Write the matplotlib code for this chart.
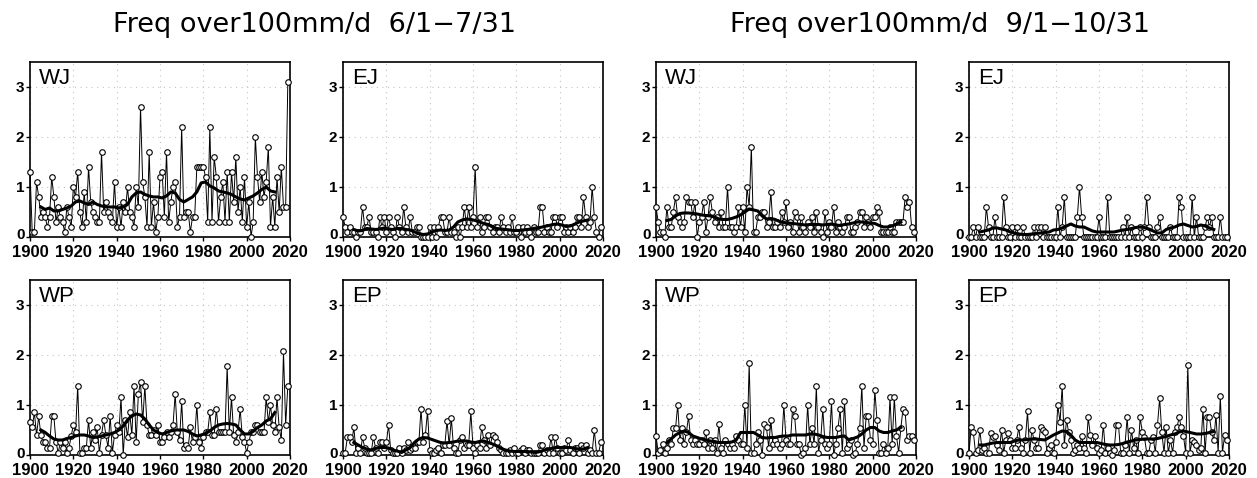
import matplotlib
matplotlib.use("Agg")
import matplotlib.pyplot as plt
from matplotlib import font_manager
from matplotlib.transforms import ScaledTranslation

# yearly frequency, 1900-2019
years = list(range(1900, 2020))
smooth_years = list(range(1905, 2015, 2))

# Jun-Jul
wj_jj = [1.3, 0.1, 0.1, 1.1, 0.8, 0.4, 0.5, 0.4, 0.2, 0.4,
         1.2, 0.8, 0.3, 0.6, 0.4, 0.3, 0.1, 0.6, 0.4, 0.2,
         1.0, 0.8, 1.3, 0.5, 0.2, 0.9, 0.3, 1.4, 0.7, 0.5,
         0.4, 0.3, 0.3, 1.7, 0.5, 0.7, 0.5, 0.4, 0.3, 1.1,
         0.2, 0.6, 0.2, 0.7, 0.5, 1.0, 0.5, 0.4, 0.2, 1.0,
         0.6, 2.6, 1.1, 0.8, 0.2, 1.7, 0.2, 0.7, 0.1, 0.4,
         1.2, 1.3, 0.4, 1.7, 0.3, 0.7, 1.0, 1.1, 0.2, 0.4,
         2.2, 0.4, 0.5, 0.5, 0.1, 0.4, 0.4, 1.4, 1.4, 1.4,
         1.4, 1.2, 0.3, 2.2, 0.3, 1.6, 1.2, 0.3, 0.8, 1.1,
         0.3, 1.3, 0.3, 1.3, 0.7, 1.6, 0.5, 1.0, 0.3, 1.2,
         0.2, 0.7, 0.0, 0.3, 2.0, 1.2, 0.7, 1.3, 0.8, 1.1,
         1.8, 0.2, 0.8, 0.2, 1.2, 0.5, 1.4, 0.6, 0.6, 3.1]
ej_jj = [0.4, 0.2, 0.1, 0.2, 0.1, 0.1, 0.0, 0.1, 0.1, 0.6,
         0.2, 0.2, 0.4, 0.1, 0.1, 0.1, 0.0, 0.4, 0.2, 0.4,
         0.1, 0.4, 0.2, 0.1, 0.0, 0.4, 0.2, 0.1, 0.6, 0.2,
         0.1, 0.4, 0.1, 0.1, 0.2, 0.2, 0.0, 0.0, 0.0, 0.0,
         0.2, 0.0, 0.2, 0.0, 0.2, 0.4, 0.4, 0.1, 0.1, 0.4,
         0.1, 0.1, 0.0, 0.2, 0.0, 0.2, 0.6, 0.2, 0.6, 0.2,
         0.4, 1.4, 0.2, 0.4, 0.1, 0.2, 0.4, 0.4, 0.2, 0.1,
         0.2, 0.2, 0.1, 0.4, 0.2, 0.1, 0.2, 0.1, 0.4, 0.1,
         0.1, 0.2, 0.0, 0.2, 0.1, 0.2, 0.1, 0.0, 0.2, 0.1,
         0.1, 0.6, 0.6, 0.1, 0.2, 0.1, 0.1, 0.4, 0.4, 0.2,
         0.4, 0.4, 0.1, 0.2, 0.1, 0.2, 0.1, 0.2, 0.4, 0.4,
         0.2, 0.8, 0.4, 0.2, 0.3, 1.0, 0.4, 0.1, 0.0, 0.2]
wp_jj = [0.65, 0.55, 0.85, 0.40, 0.77, 0.40, 0.25, 0.25, 0.15, 0.15,
         0.77, 0.77, 0.25, 0.05, 0.25, 0.15, 0.25, 0.05, 0.15, 0.38,
         0.60, 0.45, 1.38, 0.05, 0.05, 0.15, 0.15, 0.70, 0.15, 0.45,
         0.30, 0.55, 0.05, 0.40, 0.70, 0.40, 0.15, 0.78, 0.05, 0.40,
         0.60, 0.45, 1.15, 0.00, 0.70, 0.35, 0.85, 0.40, 1.38, 0.25,
         1.22, 1.45, 0.65, 1.38, 0.60, 0.40, 0.40, 0.50, 0.40, 0.60,
         0.25, 0.25, 0.35, 0.45, 0.35, 0.45, 0.60, 1.22, 0.45, 0.30,
         1.07, 0.15, 0.20, 0.15, 0.55, 0.25, 0.35, 1.00, 0.25, 0.15,
         0.35, 0.45, 0.45, 0.85, 0.40, 0.40, 0.92, 0.45, 0.45, 0.45,
         0.45, 1.77, 0.45, 1.15, 0.40, 0.25, 0.45, 0.92, 0.35, 0.25,
         0.05, 0.25, 0.45, 0.45, 0.60, 0.60, 0.45, 0.45, 0.45, 1.15,
         0.65, 1.00, 0.60, 0.45, 1.15, 0.55, 0.30, 2.07, 0.60, 1.38]
ep_jj = [0.05, 0.05, 0.35, 0.35, 0.25, 0.55, 0.05, 0.15, 0.05, 0.35,
         0.15, 0.05, 0.05, 0.05, 0.35, 0.15, 0.05, 0.25, 0.25, 0.15,
         0.25, 0.60, 0.10, 0.05, 0.05, 0.05, 0.15, 0.05, 0.15, 0.10,
         0.25, 0.10, 0.15, 0.15, 0.25, 0.25, 0.92, 0.25, 0.40, 0.87,
         0.10, 0.05, 0.05, 0.10, 0.15, 0.05, 0.20, 0.20, 0.68, 0.20,
         0.73, 0.15, 0.05, 0.05, 0.30, 0.35, 0.15, 0.20, 0.20, 0.87,
         0.15, 0.05, 0.20, 0.15, 0.55, 0.30, 0.15, 0.40, 0.20, 0.40,
         0.35, 0.25, 0.15, 0.10, 0.05, 0.05, 0.05, 0.10, 0.05, 0.15,
         0.05, 0.05, 0.10, 0.15, 0.05, 0.10, 0.10, 0.05, 0.05, 0.05,
         0.05, 0.20, 0.20, 0.05, 0.10, 0.05, 0.35, 0.05, 0.35, 0.15,
         0.05, 0.05, 0.15, 0.10, 0.30, 0.10, 0.05, 0.15, 0.15, 0.05,
         0.20, 0.15, 0.20, 0.05, 0.10, 0.05, 0.50, 0.05, 0.05, 0.25]

# Sep-Oct
wj_so = [0.6, 0.3, 0.1, 0.1, 0.0, 0.6, 0.2, 0.2, 0.5, 0.8,
         0.4, 0.3, 0.2, 0.3, 0.8, 0.7, 0.7, 0.4, 0.7, 0.0,
         0.3, 0.4, 0.7, 0.1, 0.4, 0.8, 0.5, 0.3, 0.4, 0.2,
         0.5, 0.2, 0.2, 1.0, 0.2, 0.2, 0.1, 0.2, 0.6, 0.2,
         0.6, 0.1, 1.0, 0.6, 1.8, 0.1, 0.1, 0.4, 0.4, 0.5,
         0.5, 0.2, 0.3, 0.9, 0.2, 0.2, 0.3, 0.2, 0.5, 0.3,
         0.7, 0.2, 0.3, 0.1, 0.5, 0.4, 0.1, 0.4, 0.2, 0.1,
         0.3, 0.2, 0.4, 0.1, 0.5, 0.2, 0.1, 0.0, 0.5, 0.1,
         0.3, 0.2, 0.6, 0.1, 0.3, 0.2, 0.1, 0.2, 0.4, 0.4,
         0.1, 0.1, 0.2, 0.3, 0.5, 0.5, 0.2, 0.4, 0.3, 0.2,
         0.4, 0.4, 0.6, 0.5, 0.1, 0.1, 0.1, 0.1, 0.2, 0.1,
         0.1, 0.3, 0.3, 0.3, 0.3, 0.8, 0.6, 0.7, 0.2, 0.1]
ej_so = [0.0, 0.0, 0.2, 0.0, 0.2, 0.0, 0.0, 0.0, 0.6, 0.2,
         0.0, 0.0, 0.4, 0.0, 0.0, 0.0, 0.8, 0.2, 0.0, 0.0,
         0.2, 0.0, 0.2, 0.0, 0.0, 0.2, 0.0, 0.0, 0.0, 0.0,
         0.2, 0.0, 0.2, 0.2, 0.0, 0.2, 0.0, 0.0, 0.0, 0.0,
         0.0, 0.6, 0.0, 0.2, 0.8, 0.0, 0.0, 0.0, 0.0, 0.0,
         0.4, 1.0, 0.4, 0.0, 0.0, 0.0, 0.0, 0.0, 0.0, 0.0,
         0.4, 0.0, 0.0, 0.0, 0.8, 0.0, 0.0, 0.0, 0.0, 0.0,
         0.0, 0.2, 0.0, 0.4, 0.0, 0.2, 0.0, 0.0, 0.0, 0.2,
         0.0, 0.2, 0.8, 0.2, 0.0, 0.0, 0.0, 0.2, 0.4, 0.0,
         0.0, 0.0, 0.0, 0.2, 0.0, 0.0, 0.0, 0.8, 0.6, 0.0,
         0.0, 0.0, 0.0, 0.8, 0.0, 0.4, 0.0, 0.0, 0.0, 0.2,
         0.4, 0.2, 0.4, 0.0, 0.0, 0.0, 0.4, 0.0, 0.0, 0.0]
wp_so = [0.38, 0.05, 0.10, 0.22, 0.05, 0.15, 0.30, 0.22, 0.53, 0.53,
         1.00, 0.30, 0.53, 0.22, 0.45, 0.77, 0.30, 0.22, 0.30, 0.22,
         0.22, 0.30, 0.22, 0.45, 0.15, 0.30, 0.15, 0.30, 0.05, 0.62,
         0.15, 0.05, 0.30, 0.22, 0.15, 0.22, 0.15, 0.38, 0.30, 0.22,
         0.22, 1.00, 0.15, 1.83, 0.05, 0.05, 0.22, 0.45, 0.30, 0.00,
         0.62, 0.55, 0.15, 0.70, 0.22, 0.30, 0.22, 0.15, 0.22, 1.00,
         0.30, 0.22, 0.22, 0.92, 0.77, 0.22, 0.22, 0.00, 0.05, 0.15,
         1.00, 0.22, 0.53, 0.22, 1.38, 0.05, 0.30, 0.92, 0.22, 0.15,
         0.22, 1.07, 0.00, 0.22, 0.53, 0.92, 0.05, 1.07, 0.15, 0.22,
         0.30, 0.00, 0.05, 0.22, 0.53, 1.38, 0.15, 0.77, 0.77, 0.30,
         0.22, 1.30, 0.70, 0.05, 0.05, 0.22, 0.05, 0.15, 1.15, 0.22,
         1.15, 0.38, 0.05, 0.53, 0.92, 0.85, 0.30, 0.38, 0.38, 0.30]
ep_so = [0.05, 0.55, 0.45, 0.05, 0.10, 0.50, 0.10, 0.15, 0.05, 0.05,
         0.43, 0.35, 0.38, 0.20, 0.10, 0.50, 0.05, 0.30, 0.43, 0.30,
         0.15, 0.15, 0.30, 0.55, 0.15, 0.05, 0.30, 0.87, 0.05, 0.50,
         0.30, 0.15, 0.15, 0.55, 0.50, 0.45, 0.05, 0.15, 0.20, 0.05,
         0.25, 1.00, 0.65, 1.38, 0.20, 0.70, 0.45, 0.30, 0.05, 0.10,
         0.20, 0.15, 0.38, 0.15, 0.05, 0.75, 0.40, 0.20, 0.38, 0.15,
         0.05, 0.10, 0.60, 0.05, 0.15, 0.05, 0.00, 0.10, 0.60, 0.60,
         0.05, 0.05, 0.20, 0.75, 0.05, 0.50, 0.15, 0.30, 0.05, 0.75,
         0.45, 0.35, 0.05, 0.05, 0.30, 0.35, 0.05, 0.60, 1.13, 0.45,
         0.05, 0.55, 0.05, 0.30, 0.05, 0.45, 0.55, 0.75, 0.55, 0.38,
         0.05, 1.80, 0.05, 0.30, 0.25, 0.20, 0.10, 0.15, 0.92, 0.05,
         0.75, 0.75, 0.45, 0.30, 0.80, 0.05, 1.18, 0.05, 0.40, 0.30]

# 11-year running mean (every 2nd year)
wj_jj_smooth = [0.60, 0.55, 0.58, 0.52, 0.52, 0.55, 0.58, 0.62, 0.70, 0.72,
                0.68, 0.65, 0.70, 0.65, 0.62, 0.60, 0.60, 0.60, 0.58, 0.60,
                0.65, 0.80, 0.88, 0.90, 0.85, 0.82, 0.80, 0.80, 0.78, 0.82,
                0.90, 0.88, 0.75, 0.70, 0.75, 0.80, 0.90, 1.08, 1.10, 1.02,
                0.98, 0.92, 0.90, 0.88, 0.85, 0.80, 0.76, 0.74, 0.78, 0.82,
                0.88, 0.95, 1.00, 0.92, 0.90]
ej_jj_smooth = [0.15, 0.12, 0.13, 0.17, 0.16, 0.15, 0.16, 0.18, 0.16, 0.15,
                0.17, 0.17, 0.15, 0.14, 0.10, 0.07, 0.05, 0.06, 0.10, 0.13,
                0.14, 0.13, 0.14, 0.20, 0.30, 0.34, 0.36, 0.35, 0.33, 0.30,
                0.27, 0.25, 0.20, 0.17, 0.16, 0.15, 0.14, 0.13, 0.13, 0.14,
                0.15, 0.16, 0.18, 0.19, 0.21, 0.23, 0.25, 0.26, 0.24, 0.21,
                0.22, 0.26, 0.30, 0.32, 0.34]
wp_jj_smooth = [0.50, 0.45, 0.38, 0.32, 0.30, 0.30, 0.33, 0.35, 0.38, 0.40,
                0.40, 0.38, 0.35, 0.36, 0.38, 0.40, 0.42, 0.45, 0.50, 0.58,
                0.70, 0.78, 0.82, 0.80, 0.72, 0.60, 0.50, 0.45, 0.42, 0.45,
                0.48, 0.50, 0.50, 0.50, 0.47, 0.42, 0.38, 0.40, 0.43, 0.48,
                0.55, 0.60, 0.62, 0.63, 0.62, 0.60, 0.50, 0.42, 0.42, 0.47,
                0.55, 0.60, 0.68, 0.72, 0.85]
ep_jj_smooth = [0.25, 0.20, 0.15, 0.12, 0.10, 0.13, 0.15, 0.15, 0.14, 0.10,
                0.08, 0.05, 0.10, 0.15, 0.25, 0.32, 0.35, 0.34, 0.31, 0.28,
                0.25, 0.24, 0.25, 0.26, 0.28, 0.28, 0.28, 0.26, 0.25, 0.27,
                0.28, 0.25, 0.22, 0.18, 0.13, 0.10, 0.08, 0.07, 0.07, 0.07,
                0.07, 0.06, 0.05, 0.07, 0.10, 0.12, 0.14, 0.15, 0.15, 0.15,
                0.15, 0.13, 0.12, 0.12, 0.15]
wj_so_smooth = [0.33, 0.35, 0.42, 0.47, 0.48, 0.48, 0.47, 0.46, 0.44, 0.43,
                0.42, 0.40, 0.36, 0.35, 0.35, 0.37, 0.40, 0.44, 0.50, 0.56,
                0.54, 0.52, 0.42, 0.36, 0.37, 0.35, 0.31, 0.29, 0.28, 0.27,
                0.26, 0.25, 0.24, 0.25, 0.25, 0.25, 0.24, 0.25, 0.26, 0.24,
                0.23, 0.25, 0.26, 0.28, 0.30, 0.30, 0.29, 0.28, 0.27, 0.23,
                0.20, 0.20, 0.22, 0.26, 0.30]
ej_so_smooth = [0.10, 0.12, 0.14, 0.18, 0.18, 0.16, 0.14, 0.10, 0.08, 0.06,
                0.05, 0.05, 0.06, 0.07, 0.08, 0.09, 0.10, 0.14, 0.15, 0.18,
                0.22, 0.26, 0.22, 0.20, 0.20, 0.16, 0.12, 0.10, 0.10, 0.10,
                0.10, 0.10, 0.12, 0.14, 0.15, 0.17, 0.19, 0.20, 0.19, 0.16,
                0.12, 0.08, 0.08, 0.15, 0.18, 0.20, 0.24, 0.26, 0.23, 0.20,
                0.21, 0.24, 0.22, 0.18, 0.15]
wp_so_smooth = [0.25, 0.32, 0.40, 0.45, 0.48, 0.45, 0.38, 0.35, 0.32, 0.30,
                0.28, 0.27, 0.25, 0.25, 0.25, 0.26, 0.30, 0.45, 0.45, 0.45,
                0.45, 0.40, 0.35, 0.34, 0.35, 0.35, 0.37, 0.38, 0.38, 0.40,
                0.40, 0.40, 0.40, 0.42, 0.42, 0.40, 0.37, 0.35, 0.35, 0.35,
                0.37, 0.38, 0.30, 0.33, 0.36, 0.42, 0.50, 0.55, 0.55, 0.48,
                0.45, 0.45, 0.48, 0.50, 0.55]
ep_so_smooth = [0.20, 0.20, 0.22, 0.24, 0.25, 0.25, 0.25, 0.25, 0.28, 0.30,
                0.30, 0.31, 0.32, 0.32, 0.31, 0.30, 0.35, 0.40, 0.44, 0.48,
                0.47, 0.40, 0.30, 0.25, 0.25, 0.25, 0.25, 0.25, 0.23, 0.21,
                0.20, 0.20, 0.21, 0.23, 0.26, 0.28, 0.30, 0.31, 0.32, 0.32,
                0.32, 0.33, 0.35, 0.37, 0.40, 0.42, 0.46, 0.48, 0.46, 0.44,
                0.42, 0.42, 0.43, 0.45, 0.47]

titles = ["Freq over100mm/d  6/1\u22127/31", "Freq over100mm/d  9/1\u221210/31"]

installed = {f.name for f in font_manager.fontManager.ttflist}
tick_font = "Liberation Sans Narrow" if "Liberation Sans Narrow" in installed else "Liberation Sans"

fig = plt.figure(figsize=(12.57, 4.78), dpi=100)

lefts = [0.0239, 0.2729, 0.5219, 0.7709]
bottoms = [0.5042, 0.0481]
width = 0.2068
height = 0.3665

panels = [
    (0, 0, "WJ", wj_jj, wj_jj_smooth),
    (1, 0, "EJ", ej_jj, ej_jj_smooth),
    (2, 0, "WJ", wj_so, wj_so_smooth),
    (3, 0, "EJ", ej_so, ej_so_smooth),
    (0, 1, "WP", wp_jj, wp_jj_smooth),
    (1, 1, "EP", ep_jj, ep_jj_smooth),
    (2, 1, "WP", wp_so, wp_so_smooth),
    (3, 1, "EP", ep_so, ep_so_smooth),
]

lift = ScaledTranslation(0, 3 / 100, fig.dpi_scale_trans)

for col, row, label, vals, smooth in panels:
    ax = fig.add_axes([lefts[col], bottoms[row], width, height])
    ax.plot(years, vals, color="black", linewidth=0.7, marker="o", markersize=4,
            markerfacecolor="white", markeredgecolor="black", markeredgewidth=0.8,
            clip_on=False, zorder=3)
    ax.plot(smooth_years, smooth, color="black", linewidth=2.2, zorder=4)
    ax.set_xlim(1900, 2020)
    ax.set_ylim(0, 3.5)
    ax.set_xticks(range(1900, 2021, 20))
    ax.set_yticks([0, 1, 2, 3])
    ax.grid(True, color="#c4c4c4", linestyle=(0, (1, 4)), linewidth=0.8)
    ax.set_axisbelow(True)
    for s in ax.spines.values():
        s.set_linewidth(1.2)
    ax.tick_params(direction="out", length=3, width=1)
    ax.tick_params(axis="x", pad=2.5, labelsize=12)
    ax.tick_params(axis="y", pad=1, labelsize=11)
    for t in ax.get_xticklabels() + ax.get_yticklabels():
        t.set_fontfamily(tick_font)
        t.set_fontweight("bold")
    zero = ax.yaxis.get_major_ticks()[0].label1
    zero.set_transform(zero.get_transform() + lift)
    ax.text(0.035, 0.965, label, transform=ax.transAxes, ha="left", va="top",
            fontsize=16, family="Liberation Sans")

# one title over each pair of panels
fig.text(314.5 / 1257, 0.933, titles[0], ha="center", va="baseline", fontsize=19.5)
fig.text(939.5 / 1257, 0.933, titles[1], ha="center", va="baseline", fontsize=19.5)

fig.savefig("out.png", dpi=100)
